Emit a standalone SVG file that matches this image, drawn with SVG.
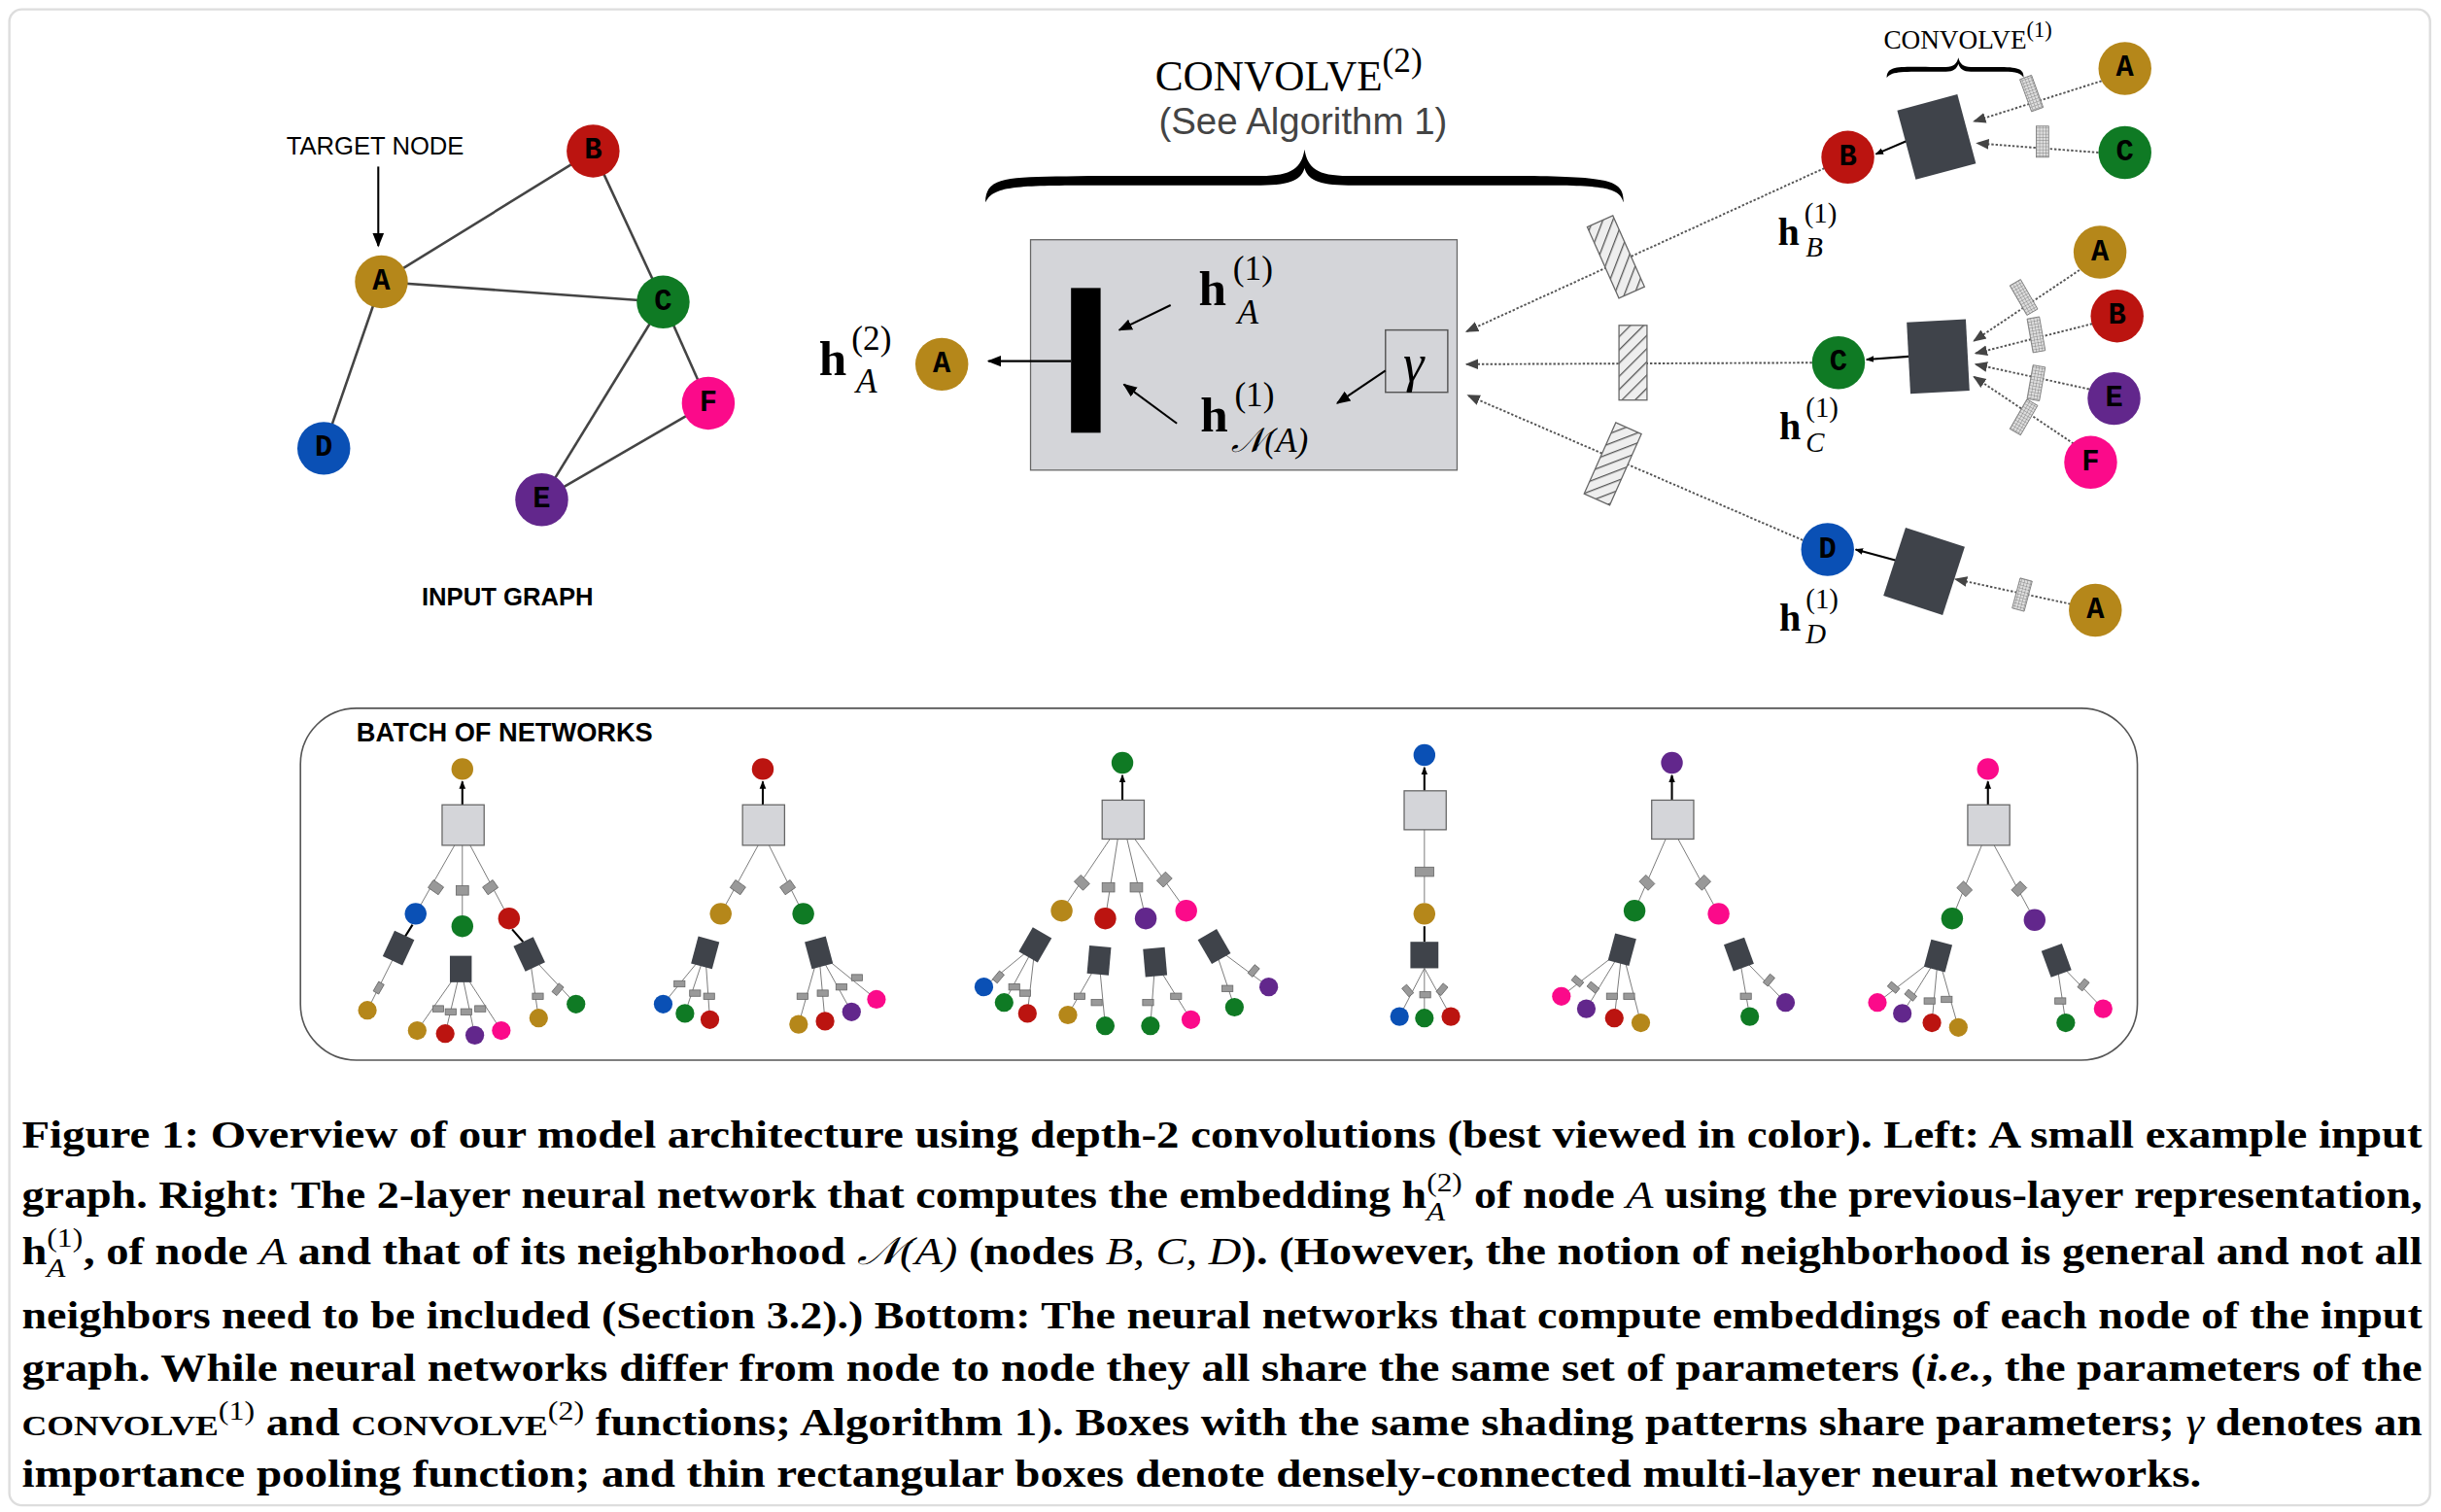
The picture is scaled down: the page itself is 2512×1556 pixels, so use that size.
<svg xmlns="http://www.w3.org/2000/svg" width="2512" height="1556" viewBox="0 0 2512 1556">
<defs>
<style>
.nl{font-family:"Liberation Mono","DejaVu Sans Mono",monospace;font-weight:bold;font-size:19px;text-anchor:middle;dominant-baseline:central;fill:#000}
.e{stroke:#444;stroke-width:1.6;fill:none}
.dot{stroke:#555;stroke-width:1.2;stroke-dasharray:1.5 1.2;fill:none}
.thin{stroke:#777;stroke-width:0.6;fill:none}
.blk{stroke:#000;stroke-width:1.3;fill:none}
.sq{fill:#3f434a}
.bx{fill:#d4d5d9;stroke:#666;stroke-width:0.8}
.sm{fill:#999;stroke:#666;stroke-width:0.5}
.m{font-family:"Liberation Serif","DejaVu Serif",serif}
.cap{font-family:"Liberation Serif","DejaVu Serif",serif;font-weight:bold;font-size:25px;fill:#000}
.gA{fill:#b5871a}.gB{fill:#bb1410}.gC{fill:#0f7a24}.gD{fill:#0a50b5}.gE{fill:#62278c}.gF{fill:#fb0a8a}
</style>
<pattern id="hatch" width="6" height="6" patternUnits="userSpaceOnUse" patternTransform="rotate(45)">
<rect width="6" height="6" fill="#eee"/><line x1="0" y1="0" x2="0" y2="6" stroke="#555" stroke-width="1.6"/>
</pattern>
<pattern id="grid" width="2" height="2" patternUnits="userSpaceOnUse">
<rect width="2" height="2" fill="#ddd"/><path d="M0 0H2M0 0V2" stroke="#777" stroke-width="0.5"/>
</pattern>
<marker id="ar" viewBox="0 0 10 10" refX="9" refY="5" markerWidth="7" markerHeight="7" orient="auto-start-reverse"><path d="M0 1L10 5L0 9z" fill="#000"/></marker>
<marker id="ag" viewBox="0 0 10 10" refX="9" refY="5" markerWidth="7" markerHeight="7" orient="auto"><path d="M0 1L10 5L0 9z" fill="#444"/></marker>
<marker id="as" viewBox="0 0 10 10" refX="9" refY="5" markerWidth="4" markerHeight="4" orient="auto"><path d="M0 1L10 5L0 9z" fill="#000"/></marker>
</defs>
<rect width="2512" height="1556" fill="#fff"/>
<g transform="scale(1.602)">
<rect x="6" y="6" width="1555" height="961" rx="8" fill="#fff" stroke="#ddd" stroke-width="1.5"/>

<g id="input-graph">
<g id="graph-edges">
<line class="e" x1="245" y1="181" x2="381" y2="97"/>
<line class="e" x1="245" y1="181" x2="426" y2="194"/>
<line class="e" x1="381" y1="97" x2="426" y2="194"/>
<line class="e" x1="245" y1="181" x2="208" y2="288"/>
<line class="e" x1="426" y1="194" x2="348" y2="321"/>
<line class="e" x1="426" y1="194" x2="455" y2="259"/>
<line class="e" x1="348" y1="321" x2="455" y2="259"/>
<line class="blk" x1="243" y1="107" x2="243" y2="158" marker-end="url(#ar)"/>
</g>
<g id="gA"><circle class="gA" cx="245" cy="181" r="17"/><text class="nl" x="245" y="181">A</text></g>
<g id="gB"><circle class="gB" cx="381" cy="97" r="17"/><text class="nl" x="381" y="97">B</text></g>
<g id="gC"><circle class="gC" cx="426" cy="194" r="17"/><text class="nl" x="426" y="194">C</text></g>
<g id="gD"><circle class="gD" cx="208" cy="288" r="17"/><text class="nl" x="208" y="288">D</text></g>
<g id="gE"><circle class="gE" cx="348" cy="321" r="17"/><text class="nl" x="348" y="321">E</text></g>
<g id="gF"><circle class="gF" cx="455" cy="259" r="17"/><text class="nl" x="455" y="259">F</text></g>
<text x="241" y="99" font-family="Liberation Sans,Arial,sans-serif" font-size="16" text-anchor="middle">TARGET NODE</text>
<text x="326" y="389" font-family="Liberation Sans,Arial,sans-serif" font-weight="bold" font-size="16" text-anchor="middle">INPUT GRAPH</text>
</g>

<g id="convolve2">
<text class="m" x="742" y="58" font-size="27">CONVOLVE<tspan font-size="22" dy="-12">(2)</tspan></text>
<text x="837" y="86" font-family="Liberation Sans,Arial,sans-serif" font-size="24" fill="#444" text-anchor="middle">(See Algorithm 1)</text>
<path d="M633 130 C633 112 650 114 700 113 L810 113 C830 113 836 108 838 96 C840 108 846 113 866 113 L985 113 C1035 114 1043 116 1043 130 C1040 120 1030 119 985 119 L866 119 C846 119 840 115 838 108 C836 115 830 119 810 119 L700 119 C650 119 638 120 633 130Z" fill="#000"/>
<rect class="bx" x="662" y="154" width="274" height="148" stroke="#777"/>
<rect x="688" y="185" width="19" height="93" fill="#000"/>
<text class="m" x="770" y="196" font-size="32" font-weight="bold">h</text>
<text class="m" x="792" y="180" font-size="22">(1)</text>
<text class="m" x="795" y="208" font-size="22" font-style="italic">A</text>
<text class="m" x="771" y="277" font-size="32" font-weight="bold">h</text>
<text class="m" x="793" y="261" font-size="22">(1)</text>
<text class="m" x="791" y="290" font-size="22" font-style="italic">𝒩(A)</text>
<line class="blk" x1="752" y1="196" x2="719" y2="212" marker-end="url(#ar)"/>
<line class="blk" x1="756" y1="272" x2="722" y2="247" marker-end="url(#ar)"/>
<rect x="890" y="212" width="40" height="40" fill="none" stroke="#555" stroke-width="0.9"/>
<text class="m" x="908" y="245" font-size="34" font-style="italic" text-anchor="middle">γ</text>
<line class="blk" x1="890" y1="238" x2="859" y2="259" marker-end="url(#ar)"/>
<line class="blk" x1="688" y1="232" x2="635" y2="232" marker-end="url(#ar)"/>
<circle class="gA" cx="605" cy="234" r="17"/><text class="nl" x="605" y="234">A</text>
<text class="m" x="526" y="241" font-size="32" font-weight="bold">h</text>
<text class="m" x="547" y="225" font-size="22">(2)</text>
<text class="m" x="550" y="252" font-size="22" font-style="italic">A</text>
</g>

<g id="connectors">
<line class="dot" x1="1172" y1="108" x2="942" y2="213" marker-end="url(#ag)"/>
<line class="dot" x1="1164" y1="233" x2="942" y2="234" marker-end="url(#ag)"/>
<line class="dot" x1="1158" y1="347" x2="943" y2="254" marker-end="url(#ag)"/>
<line class="blk" x1="1226" y1="90" x2="1205" y2="99" marker-end="url(#as)"/>
<line class="blk" x1="1226" y1="229" x2="1199" y2="231" marker-end="url(#as)"/>
<line class="blk" x1="1218" y1="360" x2="1192" y2="353" marker-end="url(#as)"/>
<line class="dot" x1="1350" y1="52" x2="1268" y2="78" marker-end="url(#ag)"/>
<line class="dot" x1="1348" y1="98" x2="1270" y2="92" marker-end="url(#ag)"/>
<line class="dot" x1="1338" y1="172" x2="1268" y2="219" marker-end="url(#ag)"/>
<line class="dot" x1="1344" y1="208" x2="1269" y2="227" marker-end="url(#ag)"/>
<line class="dot" x1="1342" y1="250" x2="1269" y2="234" marker-end="url(#ag)"/>
<line class="dot" x1="1332" y1="285" x2="1268" y2="242" marker-end="url(#ag)"/>
<line class="dot" x1="1330" y1="388" x2="1256" y2="372" marker-end="url(#ag)"/>
</g>

<g id="hatched-boxes">
<rect x="1029" y="140" width="18" height="50" fill="url(#hatch)" stroke="#666" stroke-width="0.8" transform="rotate(-24 1038 165)"/>
<rect x="1040" y="209" width="18" height="48" fill="url(#hatch)" stroke="#666" stroke-width="0.8"/>
<rect x="1027" y="273" width="18" height="50" fill="url(#hatch)" stroke="#666" stroke-width="0.8" transform="rotate(24 1036 298)"/>
</g>

<g id="convolve1">
<text class="m" x="1210" y="31" font-size="17">CONVOLVE<tspan font-size="14" dy="-7">(1)</tspan></text>
<path d="M1212 50 C1212 42 1220 43 1240 43 L1250 43 C1255 43 1257 41 1258 37 C1259 41 1261 43 1266 43 L1285 43 C1298 43 1300 45 1300 50 C1298 46 1292 46 1285 46 L1266 46 C1261 46 1259 44 1258 41 C1257 44 1255 46 1250 46 L1240 46 C1220 46 1215 46 1212 50Z" fill="#000"/>
<rect class="sq" x="1224" y="65" width="40" height="46" transform="rotate(-15 1244 88)"/>
<rect x="1301" y="49" width="8" height="22" fill="url(#grid)" stroke="#777" stroke-width="0.5" transform="rotate(-20 1305 60)"/>
<rect x="1308" y="81" width="8" height="20" fill="url(#grid)" stroke="#777" stroke-width="0.5"/>
<circle class="gA" cx="1365" cy="44" r="17"/><text class="nl" x="1365" y="44">A</text>
<circle class="gC" cx="1365" cy="98" r="17"/><text class="nl" x="1365" y="98">C</text>
<circle class="gB" cx="1187" cy="101" r="17"/><text class="nl" x="1187" y="101">B</text>
<text class="m" x="1142" y="157" font-size="25" font-weight="bold">h</text>
<text class="m" x="1159" y="143" font-size="18">(1)</text>
<text class="m" x="1160" y="165" font-size="18" font-style="italic">B</text>

<rect class="sq" x="1226" y="206" width="38" height="46" transform="rotate(-3 1245 229)"/>
<rect x="1296" y="180" width="8" height="22" fill="url(#grid)" stroke="#777" stroke-width="0.5" transform="rotate(-30 1300 191)"/>
<rect x="1304" y="204" width="8" height="22" fill="url(#grid)" stroke="#777" stroke-width="0.5" transform="rotate(-10 1308 215)"/>
<rect x="1304" y="235" width="8" height="22" fill="url(#grid)" stroke="#777" stroke-width="0.5" transform="rotate(10 1308 246)"/>
<rect x="1296" y="257" width="8" height="22" fill="url(#grid)" stroke="#777" stroke-width="0.5" transform="rotate(30 1300 268)"/>
<circle class="gA" cx="1349" cy="162" r="17"/><text class="nl" x="1349" y="162">A</text>
<circle class="gB" cx="1360" cy="203" r="17"/><text class="nl" x="1360" y="203">B</text>
<circle class="gE" cx="1358" cy="256" r="17"/><text class="nl" x="1358" y="256">E</text>
<circle class="gF" cx="1343" cy="297" r="17"/><text class="nl" x="1343" y="297">F</text>
<circle class="gC" cx="1181" cy="233" r="17"/><text class="nl" x="1181" y="233">C</text>
<text class="m" x="1143" y="282" font-size="25" font-weight="bold">h</text>
<text class="m" x="1160" y="268" font-size="18">(1)</text>
<text class="m" x="1160" y="290" font-size="18" font-style="italic">C</text>

<rect class="sq" x="1216" y="344" width="40" height="46" transform="rotate(18 1236 367)"/>
<rect x="1295" y="372" width="8" height="20" fill="url(#grid)" stroke="#777" stroke-width="0.5" transform="rotate(15 1299 382)"/>
<circle class="gA" cx="1346" cy="392" r="17"/><text class="nl" x="1346" y="392">A</text>
<circle class="gD" cx="1174" cy="353" r="17"/><text class="nl" x="1174" y="353">D</text>
<text class="m" x="1143" y="405" font-size="25" font-weight="bold">h</text>
<text class="m" x="1160" y="391" font-size="18">(1)</text>
<text class="m" x="1160" y="413" font-size="18" font-style="italic">D</text>
</g>

<g id="batch">
<rect x="193" y="455" width="1180" height="226" rx="36" fill="none" stroke="#555" stroke-width="1"/>
<text x="229" y="476" font-family="Liberation Sans,Arial,sans-serif" font-weight="bold" font-size="17">BATCH OF NETWORKS</text>

<g id="tree1">
<path class="thin" d="M292 543L267 587M297 543L297 595M302 543L327 590M256 609L236 649M296 622L268 662M296 622L286 664M296 622L305 665M296 622L322 662M340 613L346 654M340 613L370 645"/>
<line class="blk" x1="297" y1="517" x2="297" y2="502" stroke-width="0.8" marker-end="url(#as)"/>
<line class="blk" x1="260" y1="602" x2="265" y2="594" stroke-width="0.8"/>
<line class="blk" x1="336" y1="605" x2="329" y2="597" stroke-width="0.8"/>
<rect class="bx" x="284" y="517" width="27" height="26"/>
<rect class="sm" x="276" y="567" width="8" height="6" transform="rotate(35 280 570)"/>
<rect class="sm" x="293" y="569" width="8" height="6"/>
<rect class="sm" x="311" y="567" width="8" height="6" transform="rotate(-35 315 570)"/>
<rect class="sq" x="249" y="600" width="14" height="18" transform="rotate(25 256 609)"/>
<rect class="sq" x="289" y="614" width="14" height="17"/>
<rect class="sq" x="333" y="604" width="14" height="18" transform="rotate(-25 340 613)"/>
<rect class="sm" x="240" y="633" width="7" height="4" transform="rotate(-60 243 635)"/>
<rect class="sm" x="278" y="646" width="7" height="4"/><rect class="sm" x="286" y="648" width="7" height="4"/><rect class="sm" x="296" y="648" width="7" height="4"/><rect class="sm" x="305" y="646" width="7" height="4"/>
<rect class="sm" x="342" y="638" width="7" height="4"/><rect class="sm" x="355" y="634" width="7" height="4" transform="rotate(-50 358 636)"/>
<circle class="gA" cx="297" cy="494" r="7"/>
<circle class="gD" cx="267" cy="587" r="7"/><circle class="gC" cx="297" cy="595" r="7"/><circle class="gB" cx="327" cy="590" r="7"/>
<circle class="gA" cx="236" cy="649" r="6"/><circle class="gA" cx="268" cy="662" r="6"/><circle class="gB" cx="286" cy="664" r="6"/><circle class="gE" cx="305" cy="665" r="6"/><circle class="gF" cx="322" cy="662" r="6"/><circle class="gA" cx="346" cy="654" r="6"/><circle class="gC" cx="370" cy="645" r="6"/>
</g>

<g id="tree2">
<path class="thin" d="M487 543L463 587M494 543L516 587M453 612L426 645M453 612L440 651M453 612L456 655M526 612L513 658M526 612L530 656M526 612L547 650M526 612L563 642"/>
<line class="blk" x1="490" y1="517" x2="490" y2="502" stroke-width="0.8" marker-end="url(#as)"/>
<rect class="bx" x="477" y="517" width="27" height="26"/>
<rect class="sm" x="470" y="567" width="8" height="6" transform="rotate(35 474 570)"/>
<rect class="sm" x="502" y="567" width="8" height="6" transform="rotate(-35 506 570)"/>
<rect class="sq" x="446" y="603" width="14" height="18" transform="rotate(15 453 612)"/>
<rect class="sq" x="519" y="603" width="14" height="18" transform="rotate(-15 526 612)"/>
<rect class="sm" x="433" y="630" width="7" height="4"/><rect class="sm" x="443" y="636" width="7" height="4"/><rect class="sm" x="452" y="638" width="7" height="4"/>
<rect class="sm" x="512" y="638" width="7" height="4"/><rect class="sm" x="525" y="636" width="7" height="4"/><rect class="sm" x="537" y="632" width="7" height="4"/><rect class="sm" x="547" y="626" width="7" height="4"/>
<circle class="gB" cx="490" cy="494" r="7"/>
<circle class="gA" cx="463" cy="587" r="7"/><circle class="gC" cx="516" cy="587" r="7"/>
<circle class="gD" cx="426" cy="645" r="6"/><circle class="gC" cx="440" cy="651" r="6"/><circle class="gB" cx="456" cy="655" r="6"/><circle class="gA" cx="513" cy="658" r="6"/><circle class="gB" cx="530" cy="656" r="6"/><circle class="gE" cx="547" cy="650" r="6"/><circle class="gF" cx="563" cy="642" r="6"/>
</g>

<g id="tree3">
<path class="thin" d="M713 539L682 585M718 539L710 590M724 539L736 590M729 539L762 585M665 607L632 634M665 607L645 644M665 607L660 651M706 617L686 652M706 617L710 659M742 618L739 659M742 618L765 655M780 608L793 647M780 608L815 634"/>
<line class="blk" x1="721" y1="514" x2="721" y2="498" stroke-width="0.8" marker-end="url(#as)"/>
<rect class="bx" x="708" y="514" width="27" height="25"/>
<rect class="sm" x="691" y="564" width="8" height="6" transform="rotate(45 695 567)"/>
<rect class="sm" x="708" y="567" width="8" height="6"/>
<rect class="sm" x="726" y="567" width="8" height="6"/>
<rect class="sm" x="744" y="562" width="8" height="6" transform="rotate(-45 748 565)"/>
<rect class="sq" x="658" y="598" width="14" height="18" transform="rotate(30 665 607)"/>
<rect class="sq" x="699" y="608" width="14" height="18" transform="rotate(5 706 617)"/>
<rect class="sq" x="735" y="609" width="14" height="18" transform="rotate(-5 742 618)"/>
<rect class="sq" x="773" y="599" width="14" height="18" transform="rotate(-30 780 608)"/>
<rect class="sm" x="638" y="626" width="7" height="4" transform="rotate(-50 641 628)"/><rect class="sm" x="648" y="632" width="7" height="4"/><rect class="sm" x="655" y="636" width="7" height="4"/>
<rect class="sm" x="690" y="638" width="7" height="4"/><rect class="sm" x="701" y="642" width="7" height="4"/>
<rect class="sm" x="734" y="642" width="7" height="4"/><rect class="sm" x="752" y="638" width="7" height="4"/>
<rect class="sm" x="785" y="633" width="7" height="4"/><rect class="sm" x="802" y="622" width="7" height="4" transform="rotate(-50 805 624)"/>
<circle class="gC" cx="721" cy="490" r="7"/>
<circle class="gA" cx="682" cy="585" r="7"/><circle class="gB" cx="710" cy="590" r="7"/><circle class="gE" cx="736" cy="590" r="7"/><circle class="gF" cx="762" cy="585" r="7"/>
<circle class="gD" cx="632" cy="634" r="6"/><circle class="gC" cx="645" cy="644" r="6"/><circle class="gB" cx="660" cy="651" r="6"/><circle class="gA" cx="686" cy="652" r="6"/><circle class="gC" cx="710" cy="659" r="6"/><circle class="gC" cx="739" cy="659" r="6"/><circle class="gF" cx="765" cy="655" r="6"/><circle class="gC" cx="793" cy="647" r="6"/><circle class="gE" cx="815" cy="634" r="6"/>
</g>

<g id="tree4">
<path class="thin" d="M915 533L915 580M915 622L899 653M915 622L915 654M915 622L932 653"/>
<line class="blk" x1="915" y1="508" x2="915" y2="493" stroke-width="0.8" marker-end="url(#as)"/>
<line class="blk" x1="915" y1="605" x2="915" y2="595" stroke-width="0.8"/>
<rect class="bx" x="902" y="508" width="27" height="25"/>
<rect class="sm" x="909" y="557" width="12" height="6"/>
<rect class="sq" x="906" y="605" width="18" height="17"/>
<rect class="sm" x="901" y="634" width="7" height="4" transform="rotate(50 904 636)"/><rect class="sm" x="912" y="637" width="7" height="4"/><rect class="sm" x="923" y="634" width="7" height="4" transform="rotate(-50 926 636)"/>
<circle class="gD" cx="915" cy="485" r="7"/>
<circle class="gA" cx="915" cy="587" r="7"/>
<circle class="gD" cx="899" cy="653" r="6"/><circle class="gC" cx="915" cy="654" r="6"/><circle class="gB" cx="932" cy="653" r="6"/>
</g>

<g id="tree5">
<path class="thin" d="M1070 539L1050 585M1078 539L1104 587M1042 610L1003 640M1042 610L1019 648M1042 610L1037 654M1042 610L1054 657M1117 613L1124 653M1117 613L1147 644"/>
<line class="blk" x1="1074" y1="514" x2="1074" y2="498" stroke-width="0.8" marker-end="url(#as)"/>
<rect class="bx" x="1061" y="514" width="27" height="25"/>
<rect class="sm" x="1054" y="564" width="8" height="6" transform="rotate(45 1058 567)"/>
<rect class="sm" x="1090" y="564" width="8" height="6" transform="rotate(-45 1094 567)"/>
<rect class="sq" x="1035" y="601" width="14" height="18" transform="rotate(15 1042 610)"/>
<rect class="sq" x="1110" y="604" width="14" height="18" transform="rotate(-20 1117 613)"/>
<rect class="sm" x="1010" y="628" width="7" height="4" transform="rotate(40 1013 630)"/><rect class="sm" x="1020" y="632" width="7" height="4" transform="rotate(40 1023 634)"/><rect class="sm" x="1032" y="638" width="7" height="4"/><rect class="sm" x="1043" y="638" width="7" height="4"/>
<rect class="sm" x="1118" y="638" width="7" height="4"/><rect class="sm" x="1133" y="628" width="7" height="4" transform="rotate(-50 1136 630)"/>
<circle class="gE" cx="1074" cy="490" r="7"/>
<circle class="gC" cx="1050" cy="585" r="7"/><circle class="gF" cx="1104" cy="587" r="7"/>
<circle class="gF" cx="1003" cy="640" r="6"/><circle class="gE" cx="1019" cy="648" r="6"/><circle class="gB" cx="1037" cy="654" r="6"/><circle class="gA" cx="1054" cy="657" r="6"/><circle class="gC" cx="1124" cy="653" r="6"/><circle class="gE" cx="1147" cy="644" r="6"/>
</g>

<g id="tree6">
<path class="thin" d="M1273 543L1254 590M1281 543L1307 591M1245 614L1206 644M1245 614L1222 651M1245 614L1241 657M1245 614L1258 660M1321 617L1327 657M1321 617L1351 648"/>
<line class="blk" x1="1277" y1="517" x2="1277" y2="502" stroke-width="0.8" marker-end="url(#as)"/>
<rect class="bx" x="1264" y="517" width="27" height="26"/>
<rect class="sm" x="1258" y="568" width="8" height="6" transform="rotate(45 1262 571)"/>
<rect class="sm" x="1293" y="568" width="8" height="6" transform="rotate(-45 1297 571)"/>
<rect class="sq" x="1238" y="605" width="14" height="18" transform="rotate(15 1245 614)"/>
<rect class="sq" x="1314" y="608" width="14" height="18" transform="rotate(-20 1321 617)"/>
<rect class="sm" x="1213" y="632" width="7" height="4" transform="rotate(40 1216 634)"/><rect class="sm" x="1224" y="637" width="7" height="4" transform="rotate(40 1227 639)"/><rect class="sm" x="1236" y="641" width="7" height="4"/><rect class="sm" x="1247" y="640" width="7" height="4"/>
<rect class="sm" x="1320" y="641" width="7" height="4"/><rect class="sm" x="1335" y="631" width="7" height="4" transform="rotate(-50 1338 633)"/>
<circle class="gF" cx="1277" cy="494" r="7"/>
<circle class="gC" cx="1254" cy="590" r="7"/><circle class="gE" cx="1307" cy="591" r="7"/>
<circle class="gF" cx="1206" cy="644" r="6"/><circle class="gE" cx="1222" cy="651" r="6"/><circle class="gB" cx="1241" cy="657" r="6"/><circle class="gA" cx="1258" cy="660" r="6"/><circle class="gC" cx="1327" cy="657" r="6"/><circle class="gF" cx="1351" cy="648" r="6"/>
</g>
</g>

<g id="caption">
<text class="cap" x="14" y="737" textLength="1542" lengthAdjust="spacingAndGlyphs">Figure 1: Overview of our model architecture using depth-2 convolutions (best viewed in color). Left: A small example input</text>
<text class="cap" x="14" y="776" textLength="1542" lengthAdjust="spacingAndGlyphs">graph. Right: The 2-layer neural network that computes the embedding h<tspan font-size="17" font-weight="normal" dy="-11">(2)</tspan><tspan font-size="17" font-weight="normal" font-style="italic" dx="-20" dy="19">A</tspan><tspan dy="-8" dx="10"> of node </tspan><tspan font-style="italic" font-weight="normal">A</tspan> using the previous-layer representation,</text>
<text class="cap" x="14" y="812" textLength="1542" lengthAdjust="spacingAndGlyphs">h<tspan font-size="17" font-weight="normal" dy="-11">(1)</tspan><tspan font-size="17" font-weight="normal" font-style="italic" dx="-20" dy="19">A</tspan><tspan dy="-8" dx="10">, of node </tspan><tspan font-style="italic" font-weight="normal">A</tspan> and that of its neighborhood <tspan font-style="italic" font-weight="normal">𝒩(A)</tspan> (nodes <tspan font-style="italic" font-weight="normal">B, C, D</tspan>). (However, the notion of neighborhood is general and not all</text>
<text class="cap" x="14" y="853" textLength="1542" lengthAdjust="spacingAndGlyphs">neighbors need to be included (Section 3.2).) Bottom: The neural networks that compute embeddings of each node of the input</text>
<text class="cap" x="14" y="887" textLength="1542" lengthAdjust="spacingAndGlyphs">graph. While neural networks differ from node to node they all share the same set of parameters (<tspan font-style="italic">i.e.</tspan>, the parameters of the</text>
<text class="cap" x="14" y="922" textLength="1542" lengthAdjust="spacingAndGlyphs"><tspan font-size="19">CONVOLVE</tspan><tspan font-size="17" font-weight="normal" dy="-10">(1)</tspan><tspan dy="10"> and </tspan><tspan font-size="19">CONVOLVE</tspan><tspan font-size="17" font-weight="normal" dy="-10">(2)</tspan><tspan dy="10"> functions; Algorithm 1). Boxes with the same shading patterns share parameters; </tspan><tspan font-style="italic" font-weight="normal">γ</tspan> denotes an</text>
<text class="cap" x="14" y="955" textLength="1400" lengthAdjust="spacingAndGlyphs">importance pooling function; and thin rectangular boxes denote densely-connected multi-layer neural networks.</text>
</g>
</g>
</svg>
